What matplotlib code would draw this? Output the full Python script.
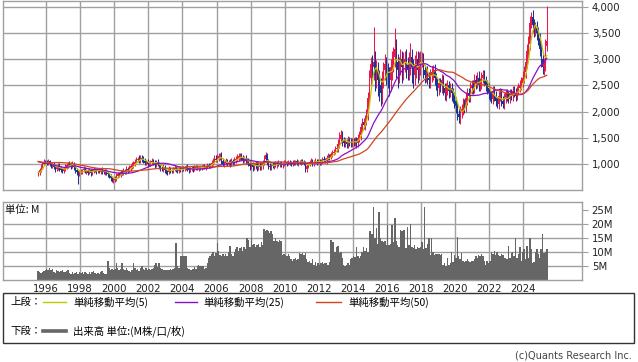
import matplotlib
matplotlib.use("Agg")
import matplotlib.pyplot as plt
from matplotlib.lines import Line2D
from matplotlib.patches import Rectangle
from matplotlib.ticker import FuncFormatter
import numpy as np
import pandas as pd

plt.rcParams['font.family'] = ['DejaVu Sans', 'Noto Sans CJK JP']
CJK = ['Noto Sans CJK JP', 'DejaVu Sans']

W, H = 638, 362
start_year, start_month = 1995, 7

# closes before the displayed period (only used to seed the moving averages)
pre_close = [1250, 1200, 1180, 1150, 1100, 1080,
             1000, 980, 950, 900, 920, 950, 900, 880, 920, 950, 980, 1000,
             1050, 1100, 1150, 1200, 1180, 1150, 1120, 1100, 1150, 1180, 1100, 1050,
             1080, 1120, 1150, 1200, 1180, 1150, 1100, 1120, 1080, 1050, 1020, 1000,
             980, 950, 900, 850, 820, 800]

# monthly closes, Jul 1995 .. May 2025
close = [
    830, 880, 960, 1000, 1040, 1030,
    1010, 1050, 1000, 960, 980, 940, 900, 930, 970, 920, 880, 860,
    900, 940, 980, 1000, 990, 960, 1000, 940, 880, 840, 800, 840,
    860, 880, 900, 850, 870, 830, 880, 820, 860, 900, 880, 860,
    880, 850, 900, 860, 840, 870, 820, 800, 760, 720, 690, 700,
    720, 760, 800, 790, 840, 820, 860, 850, 900, 880, 920, 950,
    980, 1000, 1040, 1080, 1100, 1060, 1120, 1100, 1060, 1020, 1040, 1000,
    1000, 1030, 1060, 1020, 980, 1040, 1000, 960, 920, 900, 940, 880,
    860, 840, 900, 880, 860, 900, 920, 890, 860, 900, 880, 920,
    900, 920, 940, 910, 880, 900, 920, 890, 920, 940, 910, 930,
    920, 940, 960, 930, 950, 970, 960, 980, 1020, 1050, 1100, 1080,
    1120, 1140, 1160, 1060, 1000, 1020, 1050, 1010, 1040, 1000, 1060, 1030,
    1080, 1100, 1120, 1140, 1150, 1120, 1080, 1100, 1050, 1070, 1020, 960,
    990, 940, 960, 1000, 930, 980, 940, 960, 1020, 1100, 1170, 1050,
    960, 940, 980, 960, 1000, 980, 1020, 990, 1010, 980, 1000, 1020,
    1030, 1010, 1040, 1020, 1000, 1040, 1020, 1050, 1010, 1040, 1030, 1060,
    1040, 1020, 900, 960, 1000, 1030, 1060, 1010, 1040, 1060, 1030, 1060,
    1020, 1050, 1100, 1080, 1050, 1120, 1150, 1130, 1180, 1200, 1230, 1280,
    1300, 1380, 1480, 1550, 1450, 1400, 1420, 1380, 1450, 1420, 1400, 1430,
    1420, 1450, 1400, 1500, 1550, 1700, 1800, 1750, 1850, 1950, 2250, 2650,
    2900, 2850, 2950, 2700, 2800, 2600, 2500, 2350, 2600, 2800, 2900, 2750,
    2700, 2600, 2850, 2950, 3050, 3200, 2950, 2800, 2900, 3000, 2850, 2950,
    3000, 2900, 2800, 2950, 3050, 2850, 2700, 2900, 3000, 2800, 2950, 3000,
    3000, 2800, 2700, 2750, 2650, 2600, 2700, 2750, 2800, 2650, 2550, 2450,
    2550, 2500, 2600, 2450, 2350, 2450, 2500, 2400, 2450, 2350, 2300, 2200,
    2100, 1950, 1900, 2000, 2050, 2150, 2100, 2250, 2350, 2300, 2450, 2500,
    2450, 2600, 2550, 2650, 2500, 2550, 2650, 2700, 2600, 2500, 2450, 2350,
    2300, 2250, 2400, 2300, 2200, 2150, 2300, 2350, 2200, 2150, 2250, 2350,
    2300, 2250, 2350, 2300, 2400, 2350, 2300, 2400, 2450, 2500, 2550, 2650,
    2750, 2950, 3150, 3300, 3700, 3800, 3650, 3550, 3600, 3500, 3400, 3200,
    3000, 2850, 2900, 3250, 3350,
]

# how far the high reaches above the body (yen)
hi_ext = [
    40, 50, 30, 40, 60, 30,
    50, 40, 30, 40, 30, 50, 40, 30, 50, 40, 30, 40,
    40, 50, 40, 30, 50, 40, 60, 40, 30, 40, 50, 40,
    40, 30, 50, 40, 30, 40, 50, 30, 40, 40, 30, 50,
    40, 50, 30, 40, 30, 40, 30, 40, 30, 40, 30, 50,
    50, 60, 40, 50, 40, 50, 60, 40, 50, 40, 60, 50,
    50, 60, 50, 60, 40, 70, 50, 40, 50, 60, 40, 50,
    60, 40, 50, 40, 60, 40, 50, 40, 30, 40, 50, 40,
    40, 30, 50, 40, 30, 40, 50, 40, 30, 40, 50, 30,
    40, 30, 40, 50, 30, 40, 30, 40, 50, 30, 40, 30,
    30, 40, 30, 40, 30, 40, 50, 40, 50, 60, 70, 60,
    70, 60, 50, 60, 50, 40, 60, 50, 40, 60, 50, 40,
    60, 50, 70, 60, 50, 60, 40, 50, 60, 50, 40, 50,
    50, 40, 60, 50, 60, 50, 60, 70, 60, 70, 50, 40,
    40, 50, 40, 50, 40, 50, 40, 50, 40, 50, 40, 50,
    40, 30, 40, 30, 40, 30, 40, 30, 40, 30, 40, 30,
    40, 30, 40, 50, 30, 40, 50, 30, 40, 50, 30, 40,
    40, 50, 40, 50, 40, 50, 60, 40, 50, 60, 50, 60,
    80, 100, 120, 100, 80, 60, 70, 60, 80, 60, 70, 60,
    60, 70, 60, 80, 70, 90, 80, 70, 90, 100, 120, 150,
    150, 180, 670, 200, 180, 150, 200, 150, 180, 150, 200, 150,
    180, 150, 150, 200, 180, 400, 180, 150, 150, 200, 150, 180,
    150, 200, 150, 180, 260, 150, 150, 180, 150, 150, 180, 150,
    130, 120, 100, 110, 120, 100, 110, 120, 100, 110, 90, 100,
    100, 90, 110, 100, 90, 100, 110, 90, 100, 90, 100, 80,
    80, 90, 120, 100, 90, 110, 100, 120, 110, 100, 120, 110,
    110, 120, 100, 110, 120, 100, 110, 90, 100, 90, 100, 90,
    90, 100, 80, 90, 100, 80, 90, 100, 80, 90, 100, 80,
    80, 90, 80, 90, 80, 90, 100, 80, 90, 100, 110, 120,
    120, 130, 150, 140, 130, 100, 150, 130, 120, 140, 120, 110,
    110, 120, 130, 140, 670,
]

# how far the low reaches below the body (yen)
lo_ext = [
    30, 40, 30, 40, 30, 40,
    40, 30, 50, 40, 30, 40, 50, 30, 40, 50, 40, 40,
    40, 30, 40, 50, 40, 50, 40, 50, 60, 50, 180, 40,
    40, 50, 40, 30, 50, 40, 30, 50, 40, 30, 40, 50,
    40, 30, 40, 50, 40, 50, 40, 50, 40, 50, 30, 50,
    40, 50, 40, 50, 40, 30, 40, 50, 40, 50, 40, 50,
    40, 50, 40, 30, 50, 40, 50, 60, 50, 40, 50, 60,
    40, 50, 40, 50, 60, 40, 50, 60, 50, 40, 50, 60,
    60, 50, 40, 50, 40, 30, 40, 50, 40, 30, 40, 30,
    30, 40, 30, 40, 50, 30, 40, 50, 30, 40, 30, 40,
    40, 30, 40, 30, 40, 30, 40, 30, 40, 50, 40, 50,
    50, 60, 70, 60, 50, 60, 50, 60, 50, 60, 50, 60,
    50, 60, 50, 60, 70, 50, 60, 50, 60, 50, 60, 70,
    60, 70, 50, 60, 70, 50, 60, 50, 60, 50, 70, 80,
    50, 60, 50, 40, 50, 40, 50, 40, 50, 40, 50, 40,
    40, 50, 40, 50, 40, 50, 40, 50, 40, 50, 40, 50,
    40, 50, 60, 50, 40, 50, 40, 60, 50, 40, 50, 40,
    40, 50, 40, 50, 40, 50, 40, 50, 40, 50, 40, 50,
    60, 70, 80, 90, 100, 80, 70, 80, 70, 80, 70, 80,
    70, 80, 90, 70, 80, 90, 100, 90, 100, 110, 120, 150,
    150, 200, 250, 300, 250, 300, 300, 250, 200, 150, 200, 250,
    250, 300, 200, 250, 200, 200, 300, 350, 250, 200, 300, 250,
    200, 250, 200, 200, 250, 300, 250, 200, 250, 250, 200, 250,
    150, 160, 150, 140, 130, 150, 140, 130, 140, 150, 140, 150,
    140, 130, 150, 140, 130, 140, 130, 140, 130, 140, 130, 140,
    130, 120, 120, 130, 120, 110, 120, 110, 120, 110, 120, 110,
    110, 100, 110, 100, 110, 100, 110, 100, 110, 100, 110, 100,
    100, 90, 100, 90, 100, 90, 100, 90, 100, 90, 100, 90,
    90, 80, 90, 80, 90, 80, 90, 80, 90, 80, 90, 80,
    100, 110, 120, 130, 120, 110, 130, 120, 110, 130, 120, 130,
    140, 130, 150, 120, 100,
]

# monthly volume, millions
volume_m = [
    3.3, 2.8, 2.6, 3.0, 3.2, 3.8,
    4.2, 3.6, 4.5, 3.8, 4.2, 3.0, 2.5, 3.5, 3.2, 3.0, 3.4, 3.8,
    3.0, 2.8, 3.2, 3.5, 2.5, 2.2, 2.8, 2.4, 2.6, 3.0, 2.4, 2.8,
    2.6, 3.0, 2.4, 2.8, 2.6, 2.2, 3.0, 2.4, 2.8, 3.2, 2.6, 2.2,
    2.6, 2.4, 2.8, 3.2, 2.6, 2.4, 2.2, 6.9, 4.5, 3.8, 4.2, 3.5,
    4.0, 6.3, 4.5, 3.8, 4.2, 6.3, 4.0, 3.5, 4.5, 3.8, 3.2, 2.8,
    3.5, 6.1, 4.5, 3.5, 4.0, 3.2, 4.5, 5.0, 4.2, 3.8, 4.5, 3.8,
    4.2, 3.6, 4.0, 4.5, 5.5, 6.0, 4.8, 6.0, 4.5, 4.0, 3.6, 3.8,
    3.6, 3.8, 3.5, 4.0, 3.6, 4.2, 4.5, 13.2, 5.0, 4.5, 8.5, 8.7,
    8.7, 8.6, 8.8, 4.5, 4.0, 3.6, 3.8, 4.2, 4.6, 4.0, 5.2, 5.3,
    5.2, 5.1, 5.0, 4.2, 4.5, 6.0, 7.8, 8.5, 9.5, 10.0, 8.8, 9.8,
    13.2, 10.3, 9.0, 8.7, 9.5, 8.8, 9.2, 8.5, 10.0, 12.3, 9.5, 8.8,
    10.0, 11.0, 12.0, 10.5, 11.5, 12.0, 10.5, 12.0, 11.0, 15.0, 14.5, 12.0,
    15.0, 12.5, 13.0, 12.0, 12.5, 13.0, 12.0, 13.5, 12.5, 18.3, 17.5, 18.0,
    17.5, 17.0, 17.5, 16.5, 14.0, 15.0, 14.0, 13.5, 14.5, 14.0, 9.0, 9.5,
    9.0, 8.8, 9.2, 8.5, 7.5, 7.0, 7.5, 8.0, 7.2, 7.5, 9.7, 9.5,
    9.7, 9.0, 9.8, 7.5, 6.5, 7.0, 6.0, 7.5, 5.5, 6.5, 5.0, 6.0,
    5.5, 6.0, 6.5, 5.8, 6.0, 6.2, 5.5, 6.5, 14.4, 13.8, 13.5, 10.0,
    12.0, 12.2, 9.6, 10.0, 8.0, 5.5, 5.0, 5.5, 6.0, 5.5, 7.5, 8.0,
    8.5, 8.2, 12.0, 8.5, 8.0, 8.5, 10.0, 12.0, 10.5, 11.5, 10.0, 17.6,
    17.6, 16.5, 26.2, 15.0, 18.6, 13.0, 24.5, 15.0, 14.0, 13.5, 14.0, 12.5,
    19.6, 12.6, 13.0, 19.6, 13.5, 22.3, 14.0, 12.6, 12.0, 18.0, 17.5, 18.0,
    18.0, 11.4, 19.0, 12.5, 20.0, 12.0, 11.5, 12.5, 11.0, 12.0, 11.5, 12.0,
    13.8, 11.0, 26.2, 11.5, 13.0, 15.0, 9.0, 15.0, 10.0, 9.0, 9.5, 9.5,
    9.5, 9.0, 9.5, 5.5, 6.0, 5.0, 7.8, 5.5, 6.0, 10.2, 6.5, 9.0,
    8.0, 15.6, 8.5, 7.5, 9.6, 7.0, 6.5, 7.0, 7.5, 7.0, 6.5, 7.0,
    7.0, 7.5, 8.5, 8.0, 9.0, 8.5, 9.5, 8.5, 7.0, 5.5, 7.0, 6.0,
    7.0, 10.0, 9.5, 10.5, 9.0, 10.0, 9.0, 8.5, 9.5, 9.0, 7.8, 8.0,
    7.5, 12.2, 8.0, 9.6, 10.0, 8.5, 15.0, 8.0, 9.5, 12.0, 7.0, 10.0,
    11.0, 7.5, 12.2, 8.0, 15.0, 11.0, 6.0, 6.5, 10.0, 11.0, 9.5, 8.0,
    11.0, 16.5, 9.6, 10.0, 11.0,
]

year_ticks = list(range(1996, 2025, 2))
price_ticks = [1000, 1500, 2000, 2500, 3000, 3500, 4000]
vol_ticks = [5, 10, 15, 20, 25]
vol_grid = [5, 10, 15, 20]
ma_periods = [5, 25, 50]
ma_labels = ['単純移動平均(5)', '単純移動平均(25)', '単純移動平均(50)']
ma_colors = ['#bcc800', '#8a10c8', '#d2461e']
up_color, down_color = '#e8194b', '#1e3296'
grid_color = '#a0a0a0'

n = len(close)
assert len(hi_ext) == n and len(lo_ext) == n and len(volume_m) == n

t = np.array([start_year + (start_month - 1 + i + 0.5) / 12 for i in range(n)])
c = np.array(close, dtype=float)
o = np.array([pre_close[-1]] + close[:-1], dtype=float)
body_top = np.maximum(o, c)
body_bot = np.minimum(o, c)
hi = body_top + np.array(hi_ext)
lo = body_bot - np.array(lo_ext)
cols = [up_color if cc >= oo else down_color for oo, cc in zip(o, c)]

allc = pd.Series(pre_close + close, dtype=float)
mas = [allc.rolling(p, min_periods=1).mean().values[len(pre_close):] for p in ma_periods]

fig = plt.figure(figsize=(W / 100, H / 100), dpi=100)
fig.patch.set_facecolor('white')

x0, x1 = 3, 582
xlim = (1996 + (x0 - 46) / 17.05, 1996 + (x1 - 46) / 17.05)

ax = fig.add_axes([x0 / W, 1 - 190 / H, (x1 - x0) / W, 189 / H])
ax2 = fig.add_axes([x0 / W, 1 - 280.3 / H, (x1 - x0) / W, 78.3 / H])

for a in (ax, ax2):
    a.set_xlim(*xlim)
    for s in a.spines.values():
        s.set_color(grid_color)
        s.set_linewidth(1)
    for yr in year_ticks:
        a.axvline(yr, color=grid_color, lw=1, zorder=0)
    a.yaxis.tick_right()
    a.tick_params(axis='y', length=4.5, width=0.8, color=grid_color, pad=2.5,
                  labelsize=7.3, labelcolor='#222222')

# upper: candles + moving averages
ax.set_ylim(500, 4115)
for v in price_ticks:
    ax.axhline(v, color=grid_color, lw=1, zorder=0)
ax.vlines(t, lo, hi, colors=cols, lw=0.75, zorder=2)
ax.bar(t, body_top - body_bot + 1, bottom=body_bot, width=0.06, color=cols,
       linewidth=0, zorder=2)
for m, col in zip(mas, ma_colors):
    ax.plot(t, m, color=col, lw=0.9, zorder=3)
ax.set_yticks(price_ticks)
ax.yaxis.set_major_formatter(FuncFormatter(lambda v, p: f"{int(v):,}"))
ax.set_xticks([])

# lower: volume (contiguous monthly bars)
ax2.set_ylim(0, 27.9e6)
for v in vol_grid:
    ax2.axhline(v * 1e6, color=grid_color, lw=1, zorder=0)
edges = np.concatenate([t - 1 / 24, [t[-1] + 1 / 24]])
ax2.stairs(np.array(volume_m) * 1e6, edges, fill=True, color='#666666',
           baseline=0, zorder=2)
ax2.set_yticks([v * 1e6 for v in vol_ticks])
ax2.set_yticklabels([f"{v}M" for v in vol_ticks])
ax2.set_xticks(year_ticks)
ax2.set_xticklabels([str(y) for y in year_ticks])
ax2.tick_params(axis='x', length=0, pad=3, labelsize=7.3, labelcolor='#222222')

fig.text(5 / W, 1 - 210 / H, '単位: M', fontsize=7.5, family=CJK, va='center',
         ha='left', color='#111111')


def fx(x):
    return x / W


def fy(y):
    return 1 - y / H


# legend box
fig.add_artist(Rectangle((fx(3), fy(343)), (634 - 3) / W, 50 / H,
                         transform=fig.transFigure, fill=False,
                         edgecolor='#333333', lw=1))
row1, row2 = 302, 331
fig.text(fx(10), fy(row1), '上段：', fontsize=7.5, family=CJK, va='center', ha='left')
item_x = [(43, 66, 73), (175, 197, 203), (316, 341, 348)]
for (la, lb, tx), lab, col in zip(item_x, ma_labels, ma_colors):
    fig.add_artist(Line2D([fx(la), fx(lb)], [fy(row1), fy(row1)],
                          transform=fig.transFigure, color=col, lw=1))
    fig.text(fx(tx), fy(row1), lab, fontsize=7.5, family=CJK, va='center', ha='left')

fig.text(fx(10), fy(row2), '下段：', fontsize=7.5, family=CJK, va='center', ha='left')
fig.add_artist(Line2D([fx(43), fx(66)], [fy(row2), fy(row2)],
                      transform=fig.transFigure, color='#666666', lw=2.6))
fig.text(fx(73), fy(row2), '出来高 単位:(M株/口/枚)', fontsize=7.5, family=CJK,
         va='center', ha='left')

fig.text(fx(632), fy(355), '(c)Quants Research Inc.', fontsize=7, ha='right',
         va='center', color='#444444')

fig.savefig('out.png', dpi=100, facecolor='white')
